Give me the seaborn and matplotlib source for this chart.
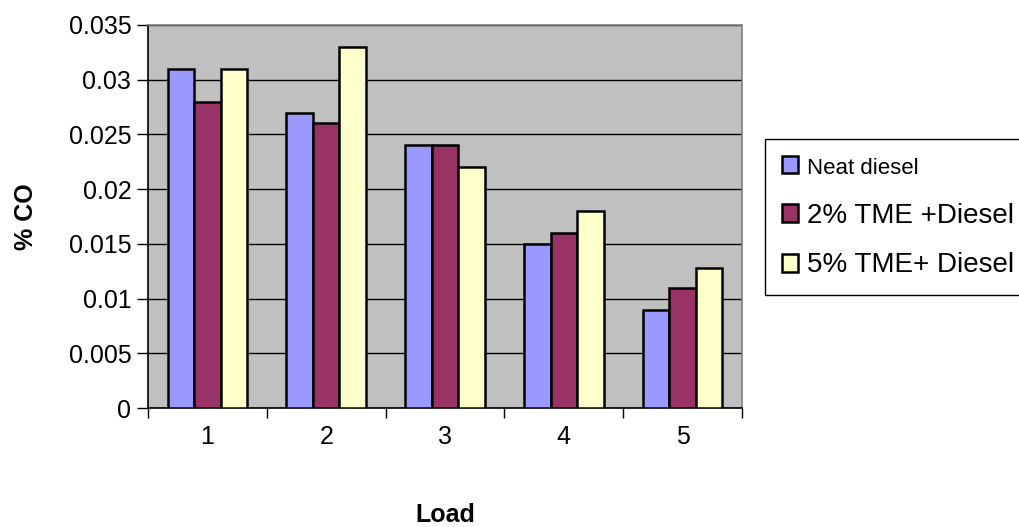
import matplotlib
matplotlib.use("Agg")
import matplotlib.pyplot as plt
import seaborn as sns
import pandas as pd
import numpy as np

loads = ["1", "2", "3", "4", "5"]
series = ["Neat diesel", "2% TME +Diesel", "5% TME+ Diesel"]
neat = [0.031, 0.027, 0.024, 0.015, 0.009]
tme2 = [0.028, 0.026, 0.024, 0.016, 0.011]
tme5 = [0.031, 0.033, 0.022, 0.018, 0.0128]
colors = ["#9999FF", "#993366", "#FFFFCC"]
yticks = [0, 0.005, 0.01, 0.015, 0.02, 0.025, 0.03, 0.035]
ytick_labels = ["0", "0.005", "0.01", "0.015", "0.02", "0.025", "0.03", "0.035"]

rows = []
for s, vals in zip(series, [neat, tme2, tme5]):
    for l, v in zip(loads, vals):
        rows.append({"Load": l, "Series": s, "CO": v})
df = pd.DataFrame(rows)

sns.set_theme(style="white")
plt.rcParams["font.family"] = ["Liberation Sans", "DejaVu Sans"]
plt.rcParams["text.color"] = "black"
plt.rcParams["axes.labelcolor"] = "black"
plt.rcParams["xtick.color"] = "black"
plt.rcParams["ytick.color"] = "black"

fig = plt.figure(figsize=(10.2, 5.27), dpi=100)
ax = fig.add_axes([148/1020, 1-408/527, (742-148)/1020, (408-25)/527])
ax.set_facecolor("#C0C0C0")

sns.barplot(data=df, x="Load", y="CO", hue="Series", order=loads, hue_order=series,
            palette=colors, width=0.67, edgecolor="black", linewidth=1.8,
            saturation=1, errorbar=None, ax=ax, zorder=3)

ax.set_ylim(0, 0.035)
ax.set_xlim(-0.5, 4.5)
ax.set_yticks(yticks)
ax.set_yticklabels(ytick_labels, fontsize=18)
ax.yaxis.grid(True, color="black", linewidth=1.0, zorder=0)
ax.set_axisbelow(True)
ax.tick_params(axis="y", direction="out", length=8, width=1, color="black", pad=4, left=True)
ax.set_xticks(range(len(loads)))
ax.set_xticklabels(loads, fontsize=18)
ax.tick_params(axis="x", which="major", length=0, pad=12)
ax.set_xticks(np.arange(-0.5, 5.0, 1.0), minor=True)
ax.tick_params(axis="x", which="minor", direction="out", length=7, width=1, color="black", bottom=True)

ax.set_xlabel("Load", fontsize=18, fontweight="bold", labelpad=39)
ax.set_ylabel("% CO", fontsize=18, fontweight="bold", labelpad=22)

for side in ["left", "bottom"]:
    ax.spines[side].set_color("black")
    ax.spines[side].set_linewidth(1.2)
for side in ["top", "right"]:
    ax.spines[side].set_color("#808080")
    ax.spines[side].set_linewidth(1.2)

handles, labels = ax.get_legend_handles_labels()
if ax.legend_:
    ax.legend_.remove()
leg = fig.legend(handles, labels, loc="upper left", bbox_to_anchor=(765/1020, 1-139/527),
                 bbox_transform=fig.transFigure, fontsize=20, frameon=True, fancybox=False,
                 edgecolor="black", framealpha=1, handlelength=0.6, handleheight=0.6,
                 handletextpad=0.3, labelspacing=0.85, borderpad=0.6, borderaxespad=0)
leg.get_frame().set_linewidth(1.0)
leg.get_texts()[0].set_fontsize(16)
for t in leg.get_texts():
    t.set_color("black")

fig.savefig("out.png", dpi=100)
